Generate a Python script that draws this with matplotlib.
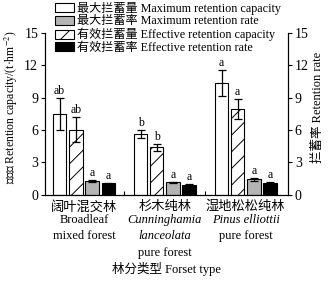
import matplotlib
matplotlib.use("Agg")
import matplotlib.pyplot as plt
import numpy as np

plt.rcParams['font.family'] = ['Liberation Serif', 'Noto Sans CJK SC']
plt.rcParams['mathtext.fontset'] = 'stix'
plt.rcParams['hatch.linewidth'] = 0.7

# data
groups_cn = ['阔叶混交林', '杉木纯林', '湿地松松纯林']
groups_en = [['Broadleaf', 'mixed forest'],
             ['Cunninghamia', 'lanceolata', 'pure forest'],
             ['Pinus elliottii', 'pure forest']]
groups_italic = [[False, False], [True, True, False], [True, False]]

series_names = ['最大拦蓄量 Maximum retention capacity',
                '有效拦蓄量 Effective retention capacity',
                '最大拦蓄率 Maximum retention rate',
                '有效拦蓄率 Effective retention rate']
max_cap = [7.5, 5.65, 10.4]
max_cap_err = [1.5, 0.35, 1.2]
eff_cap = [6.05, 4.4, 7.95]
eff_cap_err = [1.15, 0.3, 0.9]
max_rate = [1.3, 1.15, 1.45]
max_rate_err = [0.1, 0.06, 0.12]
eff_rate = [1.07, 0.93, 1.12]
eff_rate_err = [0.06, 0.05, 0.07]
letters = [['ab', 'b', 'a'], ['ab', 'b', 'a'], ['a', 'a', 'a'], ['a', 'a', 'a']]

values = [max_cap, eff_cap, max_rate, eff_rate]
errors = [max_cap_err, eff_cap_err, max_rate_err, eff_rate_err]
colors = ['white', 'white', '#b4b4b4', 'black']
hatches = ['', '//', '', '']

fig = plt.figure(figsize=(3.29, 2.82), dpi=100)
ax = fig.add_axes([0.137, 0.309, 0.738, 0.574])

x = np.arange(len(groups_cn))
width = 0.165
offsets = [-0.3, -0.1, 0.1, 0.3]
handles = []
for i in range(4):
    b = ax.bar(x + offsets[i], values[i], width, color=colors[i], edgecolor='black',
               hatch=hatches[i], linewidth=0.8, label=series_names[i],
               yerr=errors[i], capsize=3,
               error_kw=dict(elinewidth=0.9, capthick=0.9, ecolor='black'))
    handles.append(b)
    for j in range(len(x)):
        ax.text(x[j] + offsets[i], values[i][j] + errors[i][j] + 0.08, letters[i][j],
                ha='center', va='bottom', fontsize=8.5)

ax.set_xlim(-0.48, 2.52)
ax.set_ylim(0, 15)
ax.set_yticks(np.arange(0, 16, 3))
ax.tick_params(axis='y', direction='out', length=3, labelsize=10, pad=2)
ax.set_xticks([0.5, 1.5])
ax.set_xticklabels([])
ax.tick_params(axis='x', direction='in', length=3)
ax.spines['top'].set_visible(False)
ax.set_ylabel('拦蓄量 Retention capacity/(t·hm$^{-2}$)', fontsize=8.5)
ax.yaxis.set_label_coords(-0.105, 0.54)

ax2 = ax.twinx()
ax2.set_ylim(0, 15)
ax2.set_yticks(np.arange(0, 16, 3))
ax2.tick_params(axis='y', direction='out', length=3, labelsize=10, pad=2)
ax2.spines['top'].set_visible(False)
ax2.set_ylabel('拦蓄率 Retention rate', fontsize=9)
ax2.yaxis.set_label_coords(1.1, 0.54)

# multi-line category labels
trans = ax.get_xaxis_transform()
for j in range(len(x)):
    ax.text(x[j], -0.035, groups_cn[j], transform=trans, ha='center', va='top', fontsize=9.5)
    for k, line in enumerate(groups_en[j]):
        ax.text(x[j], -0.12 - k * 0.1, line, transform=trans, ha='center', va='top',
                fontsize=9, style='italic' if groups_italic[j][k] else 'normal')
ax.text(0.5, -0.413, '林分类型 Forset type', transform=ax.transAxes, ha='center',
        va='top', fontsize=9)

order = [0, 2, 1, 3]
fig.legend([handles[i] for i in order], [series_names[i] for i in order],
           loc='upper left', bbox_to_anchor=(55 / 329, 1 - 2 / 282), frameon=False,
           fontsize=8.7, handlelength=1.6, handleheight=0.8, labelspacing=0.04,
           handletextpad=0.25, borderaxespad=0, borderpad=0)

fig.savefig('out.png', dpi=100)
